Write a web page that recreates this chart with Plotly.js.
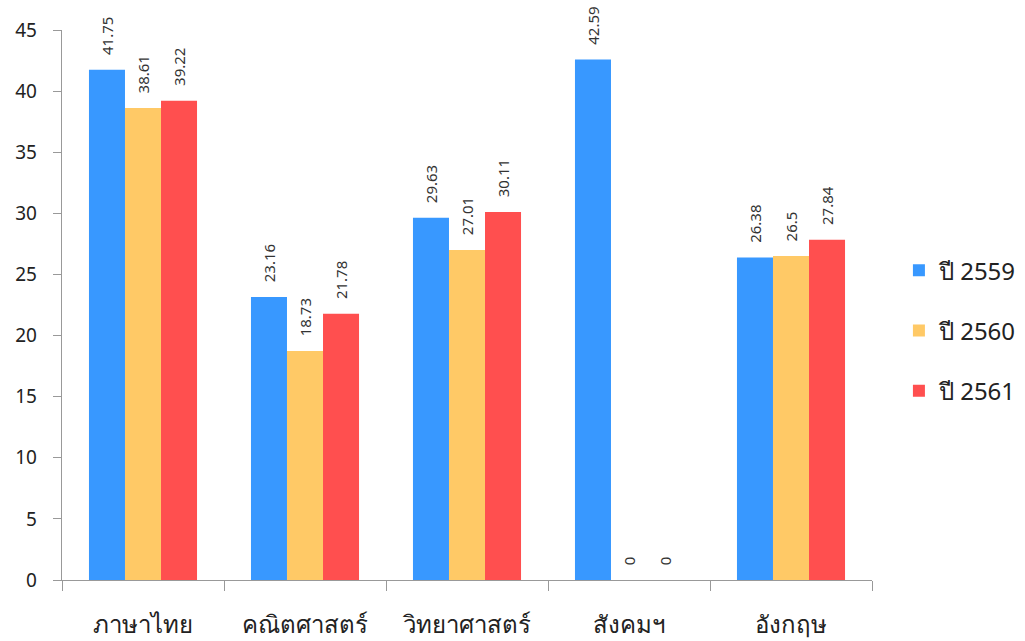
<!DOCTYPE html>
<html><head><meta charset="utf-8">
<script src="https://cdn.plot.ly/plotly-3.0.1.min.js"></script>
<style>body{margin:0;background:#fff}#c{width:1025px;height:641px}</style>
</head><body><div id="c"></div>
<script>
var categories = ["ภาษาไทย", "คณิตศาสตร์", "วิทยาศาสตร์", "สังคมฯ", "อังกฤษ"];
var seriesNames = ["ปี 2559", "ปี 2560", "ปี 2561"];
var y2559 = [41.75, 23.16, 29.63, 42.59, 26.38];
var y2560 = [38.61, 18.73, 27.01, 0, 26.5];
var y2561 = [39.22, 21.78, 30.11, 0, 27.84];
var colors = ["#3898ff", "#ffc966", "#ff4f4f"];
var FONT = "Tahoma, 'Noto Sans', 'DejaVu Sans', sans-serif";

var all = [y2559, y2560, y2561];
var traces = all.map(function(v, i){
  return {
    type: "bar", name: seriesNames[i], x: categories, y: v,
    legendgroup: "g" + i,
    marker: {color: colors[i]},
    text: v.map(String), texttemplate: "\u00a0\u00a0\u00a0%{text}",
    textposition: "outside", textangle: -90,
    constraintext: "none", cliponaxis: false,
    textfont: {family: FONT, size: 15, color: "#333"},
    hoverinfo: "x+y+name"
  };
});

var layout = {
  width: 1025, height: 641,
  margin: {l: 62, r: 153, t: 30, b: 61},
  paper_bgcolor: "#fff", plot_bgcolor: "#fff",
  barmode: "group", bargap: 0.333, bargroupgap: 0,
  font: {family: FONT, color: "#222"},
  showlegend: true,
  legend: {xref: "container", yref: "container", x: 0.877, y: 0.484, yanchor: "middle", xanchor: "left",
           font: {family: FONT, size: 24, color: "#222"}, tracegroupgap: 26, itemwidth: 30},
  xaxis: {
    showline: true, linecolor: "#999", linewidth: 1.3,
    ticks: "outside", tickson: "boundaries", ticklen: 10, tickcolor: "#999",
    tickfont: {family: FONT, size: 24, color: "#222"}, ticklabelstandoff: 23,
    showgrid: false, zeroline: false
  },
  yaxis: {
    range: [0, 45], dtick: 5, showline: true, linecolor: "#999", linewidth: 1.3,
    ticks: "outside", ticklen: 8, tickcolor: "#999",
    tickfont: {family: FONT, size: 19, color: "#222"}, ticklabelstandoff: 12,
    showgrid: false, zeroline: false
  }
};
Plotly.newPlot("c", traces, layout, {displayModeBar: false, staticPlot: true});
</script></body></html>
